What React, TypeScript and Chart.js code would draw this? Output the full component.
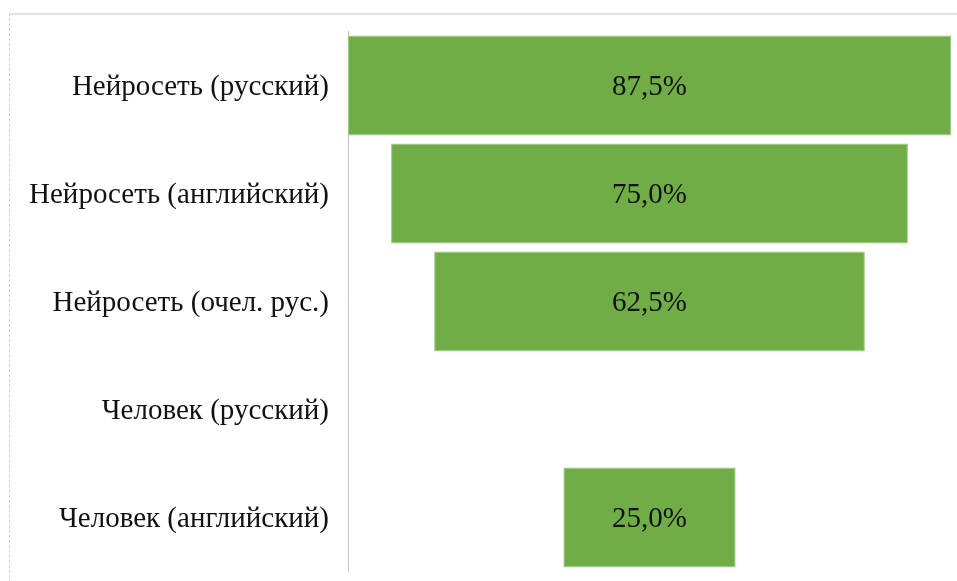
import React, { useEffect, useRef } from "react";
import { Chart, registerables } from "chart.js";

Chart.register(...registerables);

const categories = [
  "Нейросеть (русский)",
  "Нейросеть (английский)",
  "Нейросеть (очел. рус.)",
  "Человек (русский)",
  "Человек (английский)",
];
const values = [87.5, 75.0, 62.5, 0, 25.0];
const maxValue = 87.5;

const FONT = "'Liberation Serif', 'Times New Roman', serif";
const FONT_SIZE = 29;

const labelPlugin = {
  id: "funnelLabels",
  afterDatasetsDraw(chart: any) {
    const ctx = chart.ctx;
    const meta = chart.getDatasetMeta(0);
    ctx.save();
    ctx.font = `${FONT_SIZE}px ${FONT}`;
    ctx.fillStyle = "#111";
    ctx.textAlign = "center";
    ctx.textBaseline = "middle";
    meta.data.forEach((el: any, i: number) => {
      const v = values[i];
      if (!v) return;
      const c = el.getCenterPoint();
      ctx.fillText(v.toFixed(1).replace(".", ",") + "%", c.x, c.y + 2);
    });
    ctx.restore();
  },
};

export default function App() {
  const ref = useRef<HTMLCanvasElement>(null);
  useEffect(() => {
    const chart = new Chart(ref.current!, {
      type: "bar",
      data: {
        labels: categories,
        datasets: [
          {
            data: values.map((v) => [-v / 2, v / 2]) as any,
            backgroundColor: "#70AD47",
            borderColor: "#9ccb7f",
            borderWidth: values.map((v) => (v ? 1 : 0)),
            borderSkipped: false,
            barPercentage: 1,
            categoryPercentage: 0.926,
          },
        ],
      },
      options: {
        indexAxis: "y",
        animation: false,
        responsive: false,
        maintainAspectRatio: false,
        layout: { padding: { left: 10, right: 6, top: 31.5, bottom: 9.5 } },
        plugins: { legend: { display: false }, tooltip: { enabled: false } },
        scales: {
          x: {
            display: false,
            min: -maxValue / 2,
            max: maxValue / 2,
          },
          y: {
            afterFit: (s: any) => {
              s.width = 338;
              s.paddingTop = 0;
              s.paddingBottom = 0;
            },
            grid: { display: false, drawTicks: false },
            border: { display: true, color: "#c4c4c4", dash: [2, 2], width: 1 },
            ticks: {
              color: "#111",
              padding: 19,
              labelOffset: 2,
              font: { family: FONT, size: FONT_SIZE },
            },
          },
        },
      },
      plugins: [labelPlugin],
    });
    return () => chart.destroy();
  }, []);
  return (
    <div style={{ position: "absolute", left: 0, top: 0, width: 957, height: 581, background: "#fff" }}>
      <div
        style={{
          position: "absolute",
          left: 9,
          top: 13,
          width: 948,
          height: 568,
          borderTop: "2px solid #e2e2e2",
          borderLeft: "1px dashed #cfcfcf",
        }}
      />
      <canvas ref={ref} width={957} height={581} style={{ position: "absolute", left: 0, top: 0, width: 957, height: 581 }} />
    </div>
  );
}
